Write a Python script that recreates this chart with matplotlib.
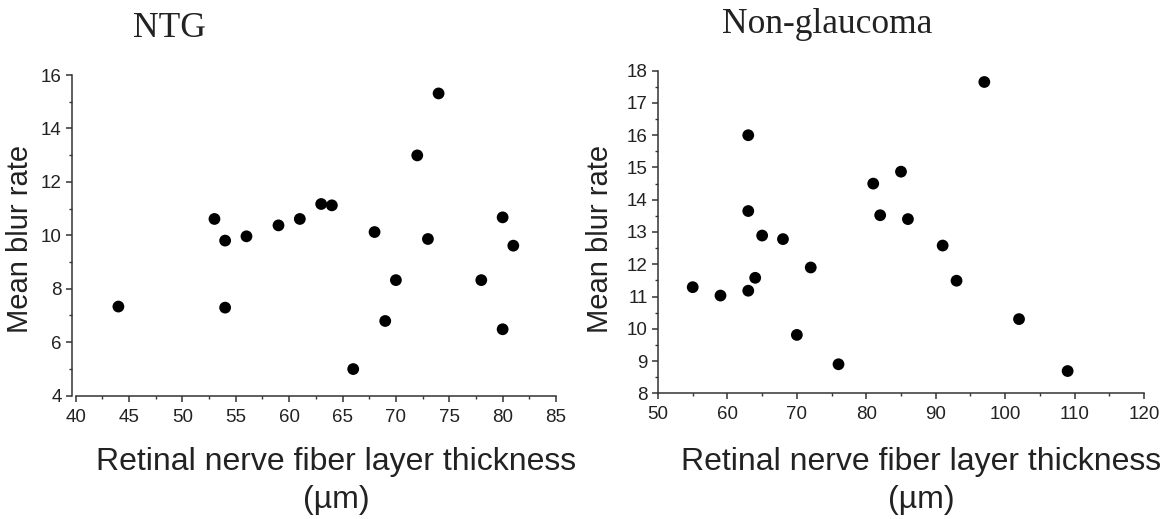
import matplotlib
matplotlib.use("Agg")
import matplotlib.pyplot as plt
from matplotlib.ticker import MultipleLocator

# ---- data ----
ntg_rnfl = [44, 53, 54, 54, 56, 59, 61, 63, 64, 66, 68, 69, 70, 72, 73, 74, 78, 80, 80, 81]
ntg_mbr = [7.33, 10.61, 9.80, 7.29, 9.96, 10.37, 10.61, 11.17, 11.12, 4.99,
           10.12, 6.79, 8.32, 12.99, 9.86, 15.31, 8.32, 10.67, 6.48, 9.61]

ng_rnfl = [55, 59, 63, 63, 63, 64, 65, 68, 70, 72, 76, 81, 82, 85, 86, 91, 93, 97, 102, 109]
ng_mbr = [11.29, 11.03, 16.0, 13.65, 11.18, 11.58, 12.89, 12.78, 9.81, 11.9,
          8.90, 14.50, 13.52, 14.87, 13.40, 12.58, 11.49, 17.65, 10.30, 8.69]

titles = ["NTG", "Non-glaucoma"]
xlabel_line1 = "Retinal nerve fiber layer thickness"
xlabel_line2 = "(\u00b5m)"
ylabel = "Mean blur rate"

plt.rcParams['font.family'] = ['Liberation Sans', 'DejaVu Sans']
TXT = '#222222'

fig = plt.figure(figsize=(11.68, 5.19), dpi=100)
W, H = 1168.0, 519.0

def make_axes(x0, x1, ytop, ybot):
    return fig.add_axes([x0 / W, 1 - ybot / H, (x1 - x0) / W, (ybot - ytop) / H])

ax1 = make_axes(75.7, 556.0, 75.0, 395.5)
ax2 = make_axes(658.0, 1144.0, 70.7, 393.3)

def style(ax, xlim, ylim, xmaj, xmin, ymaj, ymin, left_off):
    ax.set_xlim(*xlim)
    ax.set_ylim(*ylim)
    ax.xaxis.set_major_locator(MultipleLocator(xmaj))
    ax.xaxis.set_minor_locator(MultipleLocator(xmin))
    ax.yaxis.set_major_locator(MultipleLocator(ymaj))
    ax.yaxis.set_minor_locator(MultipleLocator(ymin))
    for s in ['top', 'right']:
        ax.spines[s].set_visible(False)
    for s in ['left', 'bottom']:
        ax.spines[s].set_linewidth(1.1)
        ax.spines[s].set_color('#333333')
    ax.spines['left'].set_position(('outward', left_off))
    ax.tick_params(which='major', direction='out', length=4.5, width=1.1,
                   colors='#333333', labelsize=13.5, labelcolor=TXT, pad=3)
    ax.tick_params(which='minor', direction='out', length=2.5, width=1.0,
                   colors='#333333')
    ax.tick_params(axis='y', which='minor', length=2.0)
    ax.tick_params(axis='x', which='major', pad=5)
    ax.set_facecolor('none')

style(ax1, (40, 85), (4, 16), 5, 2.5, 2, 1, 2.5)
style(ax2, (50, 120), (8, 18), 10, 5, 1, 0.5, 0)

ax1.scatter(ntg_rnfl, ntg_mbr, s=72, color='black', edgecolors='none', zorder=3, clip_on=False)
ax2.scatter(ng_rnfl, ng_mbr, s=72, color='black', edgecolors='none', zorder=3, clip_on=False)

# titles
fig.text(169 / W, 1 - 37 / H, titles[0], family='Liberation Serif', fontsize=25.5,
         ha='center', va='baseline', color=TXT)
fig.text(827 / W, 1 - 33 / H, titles[1], family='Liberation Serif', fontsize=25.5,
         ha='center', va='baseline', color=TXT)

# x labels
for cx in (336, 921):
    fig.text(cx / W, 1 - 470 / H, xlabel_line1, fontsize=23, ha='center', va='baseline', color=TXT)
    fig.text(cx / W, 1 - 508 / H, xlabel_line2, fontsize=23, ha='center', va='baseline', color=TXT)

# y labels
for cx in (20, 600):
    fig.text(cx / W, 1 - 239 / H, ylabel, fontsize=21, rotation=90,
             ha='center', va='center', color=TXT)

fig.savefig('out.png', dpi=100, facecolor='white')
